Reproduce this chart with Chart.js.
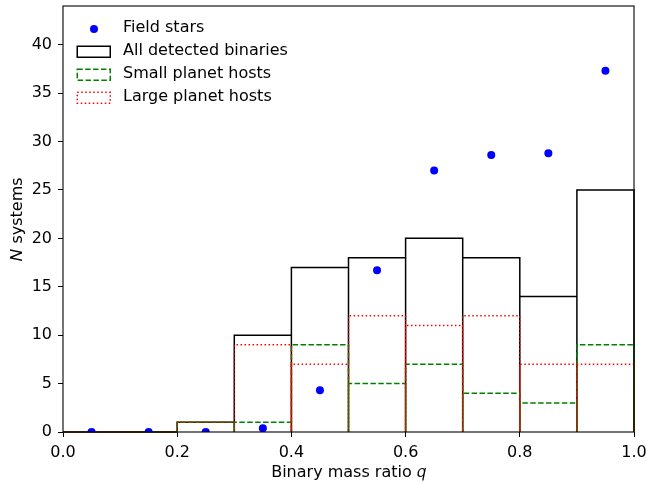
<!DOCTYPE html>
<html>
<head>
<meta charset="utf-8">
<script src="https://cdn.jsdelivr.net/npm/chart.js@4.4.1/dist/chart.umd.min.js"></script>
<style>
  html, body { margin: 0; padding: 0; background: #fff; }
  #wrap { position: relative; width: 647px; height: 483px; }
</style>
</head>
<body>
<div id="wrap"><canvas id="c" width="647" height="483"></canvas></div>
<script>
// ---- data ----
const binEdges = [0.0, 0.1, 0.2, 0.3, 0.4, 0.5, 0.6, 0.7, 0.8, 0.9, 1.0];
const binCenters = [0.05, 0.15, 0.25, 0.35, 0.45, 0.55, 0.65, 0.75, 0.85, 0.95];
const fieldStars = [0, 0, 0, 0.4, 4.3, 16.7, 27.0, 28.6, 28.8, 37.3];
const allBinaries = [0, 0, 1, 10, 17, 18, 20, 18, 14, 25];
const smallHosts = [0, 0, 1, 1, 9, 5, 7, 4, 3, 9];
const largeHosts = [0, 0, 1, 9, 7, 12, 11, 12, 7, 7];
const seriesLabels = ['Field stars', 'All detected binaries', 'Small planet hosts', 'Large planet hosts'];
const xTicks = [0.0, 0.2, 0.4, 0.6, 0.8, 1.0];
const yTicks = [0, 5, 10, 15, 20, 25, 30, 35, 40];

const FONT = 'DejaVu Sans';

// outline of unfilled histogram bars (each bin a rectangle from the baseline)
function barOutline(counts) {
  const pts = [];
  counts.forEach((c, i) => {
    const x0 = binEdges[i], x1 = binEdges[i + 1];
    pts.push({x: x0, y: 0}, {x: x0, y: c}, {x: x1, y: c}, {x: x1, y: 0});
  });
  return pts;
}

// legend icons
function icon(kind, color, dash) {
  const cv = document.createElement('canvas');
  cv.width = 45; cv.height = 18;
  const g = cv.getContext('2d');
  if (kind === 'dot') {
    g.fillStyle = color;
    g.beginPath(); g.arc(24, 10, 4, 0, Math.PI * 2); g.fill();
  } else {
    g.strokeStyle = color; g.lineWidth = 1.5;
    g.setLineDash(dash);
    g.strokeRect(7.25, 4.25, 33, 11);
  }
  return cv;
}
const legendIcons = [
  icon('dot', '#0000ff', []),
  icon('rect', '#000000', []),
  icon('rect', '#008000', [5.5, 2.4]),
  icon('rect', '#ff0000', [1.5, 2.5])
];

const framePlugin = {
  id: 'frame',
  afterLayout(chart) {
    // move the in-plot legend down a little, as in the reference
    const lg = chart.legend;
    if (lg) { lg.top += 13; lg.bottom += 13; }
  },
  afterDraw(chart) {
    const {ctx, chartArea: a} = chart;
    ctx.save();
    ctx.strokeStyle = '#000'; ctx.lineWidth = 1.1;
    ctx.strokeRect(a.left, a.top, a.right - a.left, a.bottom - a.top);
    ctx.restore();
  }
};

new Chart(document.getElementById('c'), {
  type: 'scatter',
  data: {
    datasets: [
      {
        label: seriesLabels[0],
        data: binCenters.map((x, i) => ({x, y: fieldStars[i]})),
        showLine: false,
        pointRadius: 4, pointHoverRadius: 4,
        backgroundColor: '#0000ff', borderColor: '#0000ff', borderWidth: 0,
        clip: 0, order: 0
      },
      {
        label: seriesLabels[1],
        data: barOutline(allBinaries),
        showLine: true, pointRadius: 0, borderColor: '#000000', borderWidth: 1.5,
        tension: 0, clip: 3, order: 3
      },
      {
        label: seriesLabels[2],
        data: barOutline(smallHosts),
        showLine: true, pointRadius: 0, borderColor: '#008000', borderWidth: 1.5,
        borderDash: [5.5, 2.4], tension: 0, clip: 3, order: 2
      },
      {
        label: seriesLabels[3],
        data: barOutline(largeHosts),
        showLine: true, pointRadius: 0, borderColor: '#ff0000', borderWidth: 1.5,
        borderDash: [1.5, 2.5], tension: 0, clip: 3, order: 1
      }
    ]
  },
  options: {
    responsive: false,
    devicePixelRatio: 1,
    animation: false,
    events: [],
    layout: { padding: { top: 6, right: 13, left: 0, bottom: 0 } },
    scales: {
      x: {
        type: 'linear', min: 0, max: 1,
        afterFit(s) { s.height = 51; s.paddingLeft = 0; s.paddingRight = 0; },
        afterBuildTicks(s) { s.ticks = xTicks.map(v => ({value: v})); },
        ticks: { font: {family: FONT, size: 16}, color: '#000', padding: 6,
                 callback: v => Number(v).toFixed(1), maxRotation: 0 },
        grid: { display: true, drawOnChartArea: false, drawTicks: true, tickLength: 5, color: '#000', lineWidth: 1 },
        border: { display: false },
        title: { display: true, text: 'Binary mass ratio 𝑞', font: {family: FONT, size: 16}, color: '#000',
                 padding: {top: 0, bottom: 1} }
      },
      y: {
        type: 'linear', min: 0, max: 44,
        afterFit(s) { s.width = 63; s.paddingTop = 0; s.paddingBottom = 0; },
        afterBuildTicks(s) { s.ticks = yTicks.map(v => ({value: v})); },
        ticks: { font: {family: FONT, size: 16}, color: '#000', padding: 6 },
        grid: { display: true, drawOnChartArea: false, drawTicks: true, tickLength: 5, color: '#000', lineWidth: 1 },
        border: { display: false },
        title: { display: true, text: '𝑁 systems', font: {family: FONT, size: 16}, color: '#000',
                 padding: {top: 8, bottom: 0} }
      }
    },
    plugins: {
      tooltip: { enabled: false },
      legend: {
        position: 'chartArea', align: 'start',
        labels: {
          usePointStyle: true, pointStyleWidth: 45,
          font: {family: FONT, size: 16}, color: '#000', padding: 7,
          generateLabels: () => seriesLabels.map((t, i) => ({
            text: t, pointStyle: legendIcons[i], fillStyle: 'rgba(0,0,0,0)',
            strokeStyle: 'rgba(0,0,0,0)', lineWidth: 0, hidden: false, datasetIndex: i, fontColor: '#000'
          }))
        }
      }
    }
  },
  plugins: [framePlugin]
});
</script>
</body>
</html>
